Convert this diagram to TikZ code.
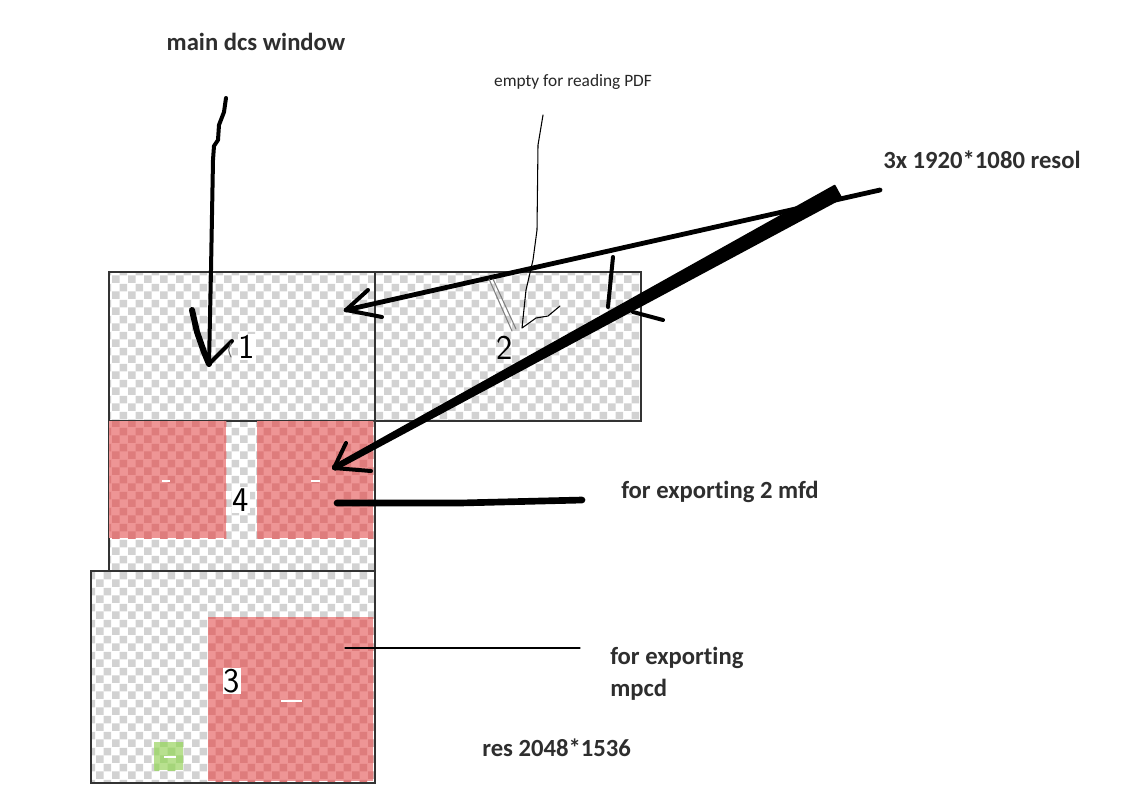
\documentclass[tikz,border=0pt]{standalone}
\usepackage{fontspec}
\setmainfont{Carlito}[Ligatures=NoCommon]
\usetikzlibrary{patterns.meta,positioning,calc}
\definecolor{checkgray}{HTML}{D2D2D2}
\definecolor{redlight}{HTML}{EE9595}
\definecolor{reddark}{HTML}{DE7C7C}
\definecolor{greenlight}{HTML}{B8E08F}
\definecolor{greendark}{HTML}{A5D57A}
\definecolor{frame}{HTML}{333333}
\tikzdeclarepattern{
  name=checks, type=uncolored,
  bottom left={(0pt,0pt)}, top right={(12pt,12pt)}, tile size={(12pt,12pt)},
  code={\fill (0pt,0pt) rectangle (6pt,6pt); \fill (6pt,6pt) rectangle (12pt,12pt);}
}
\tikzset{
  win/.style={draw=frame, line width=1.5pt, pattern=checks, pattern color=checkgray, inner sep=0pt, anchor=north west},
  redpart/.style={preaction={fill=redlight}, pattern=checks, pattern color=reddark, inner sep=0pt, anchor=north west},
  greenpart/.style={preaction={fill=greenlight}, pattern=checks, pattern color=greendark, inner sep=0pt, anchor=north west},
  num/.style={font=\sffamily\fontsize{26}{26}\selectfont, inner sep=1pt},
  numbox/.style={num, fill=white},
  lbl/.style={font=\bfseries\fontsize{18.5}{24}\selectfont, text=black!82, inner sep=0pt},
  note/.style={font=\fontsize{13}{14}\selectfont, text=black!85, inner sep=0pt},
  pen/.style={line width=3pt, line cap=round, line join=round},
  fatpen/.style={line width=5pt, line cap=round, line join=round},
  thinpen/.style={line width=0.8pt, line cap=round, line join=round},
  whitemark/.style={draw=white, line width=1.2pt},
}
\begin{document}
\begin{tikzpicture}[x=0.75pt, y=-0.75pt]
  \useasboundingbox[fill=white] (0,0) rectangle (1131,794);

  % windows
  \node[win, minimum width=266*0.75pt, minimum height=149*0.75pt] (win1) at (108,271) {};
  \node[win, minimum width=266*0.75pt, minimum height=149*0.75pt] (win2) at (374,271) {};
  \node[win, minimum width=266*0.75pt, minimum height=150*0.75pt] (win4) at (108,420) {};
  \node[win, minimum width=284*0.75pt, minimum height=212*0.75pt] (win3) at (90,570) {};

  \node[redpart, minimum width=117*0.75pt, minimum height=117*0.75pt] (red4a) at (109,421) {};
  \node[redpart, minimum width=116*0.75pt, minimum height=117*0.75pt] (red4b) at (257,421) {};
  \node[redpart, minimum width=165*0.75pt, minimum height=164*0.75pt] (red3) at (208,617) {};
  \node[greenpart, minimum width=29*0.75pt, minimum height=28*0.75pt] (green3) at (154,742) {};

  \draw[whitemark] (162,481) -- (170,481);
  \draw[whitemark] (311,481) -- (320,481);
  \draw[whitemark] (281,701) -- (302,701);
  \draw[whitemark] (164,757) -- (176,757);

  \node[numbox] (n1) at (247,347) {1};
  \node[num] (n2) at (505,348) {2};
  \node[numbox] (n4) at (241,500) {4};
  \node[numbox] (n3) at (232,681) {3};

  % labels
  \node[lbl] (lblmain) at (256,42) {main dcs window};
  \node[note] (lblpdf) at (573,82) {empty for reading PDF};
  \node[lbl, anchor=west] (lblres) at (883,160) {3x 1920*1080 resol};
  \node[lbl, anchor=west] (lblmfd) at (621,492) {for exporting 2 mfd};
  \node[lbl, anchor=north west, align=left] (lblmpcd) at (610,647) {for exporting\\mpcd};
  \node[lbl, anchor=west] (lblres3) at (482,748) {res 2048*1536};

  \coordinate (mainfrom) at (226,98);
  \coordinate (maintip) at (209,364);
  \coordinate (resfrom) at (880,190);
  \coordinate (tip1) at (346,310);
  \coordinate (tip4) at (334,468);
  \coordinate (pdffrom) at (543,115);
  \coordinate (mfdto) at (582,500);
  \coordinate (mpcdto) at (580,648);

  % hand drawn arrows
  \draw[pen] (mainfrom) -- (224,112) -- (219,125) -- (218,140) -- (214,146) -- (213,160) -- (211,270) -- (maintip);
  \draw[line width=4.5pt, line cap=round, line join=round] (192,310) -- (197,332) -- (204,352) -- (maintip);
  \draw[pen] (maintip) -- (232,341);
  \draw[thinpen, black!60] (231,343) .. controls (228,350) .. (231,357);

  \draw[pen, line width=3.6pt] (resfrom) -- (tip1);
  \draw[pen] (tip1) -- (368,290);
  \draw[pen] (tip1) -- (382,317);

  \fill[line width=1.5pt, draw, line join=round] (841.4,198.2) -- (834.6,185.8) -- (333,466.2) -- (335,469.8) -- cycle;
  \draw[pen] (tip4) -- (346,443);
  \draw[pen] (tip4) -- (371,471);
  \draw[pen] (613,257) -- (608,307);
  \draw[pen] (633,312) -- (663,320);

  \draw[thinpen] (pdffrom) -- (538,145) -- (537,230) -- (533,260) -- (526,290) -- (522,328) -- (536,318) -- (548,316) -- (560,306);
  \draw[thinpen, black!50] (489,279) -- (512,331);
  \draw[thinpen, black!50] (493,279) -- (516,329);

  \draw[fatpen] (337,503) -- (460,503) -- (mfdto);
  \draw[thinpen] (345,648) -- (mpcdto);
\end{tikzpicture}
\end{document}
